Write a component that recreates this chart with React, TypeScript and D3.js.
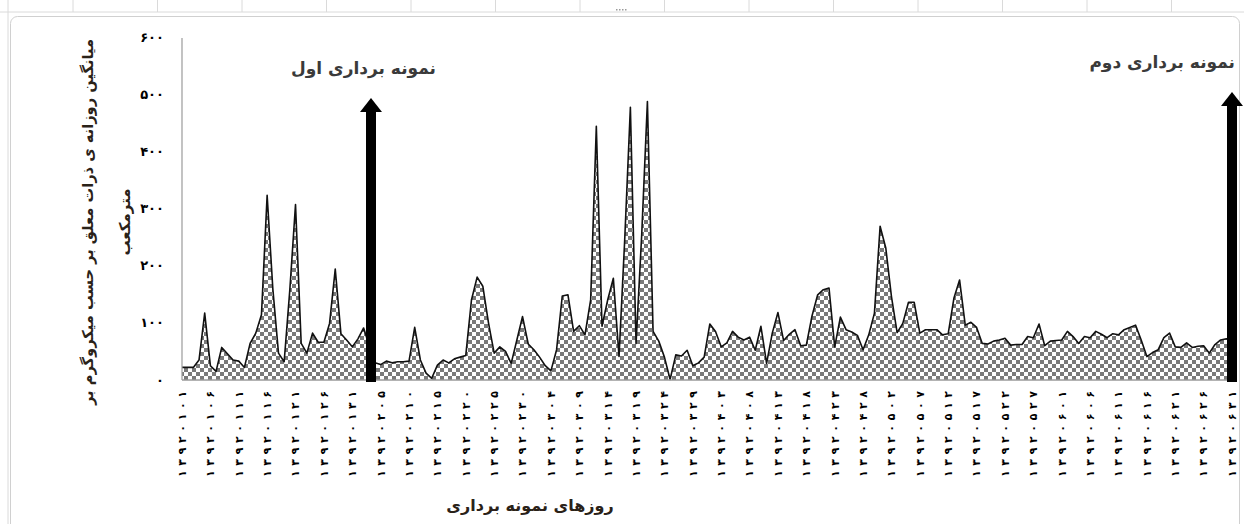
import * as d3 from 'd3';

// daily mean values, 1392/01/01 .. 1392/06/31 (186 days)
const dailyValues = [
  22, 22, 22, 35, 117, 25, 15, 57, 46, 35,
  33, 22, 64, 82, 114, 323, 160, 47, 32, 158,
  307, 64, 47, 82, 66, 66, 99, 194, 81, 70,
  58, 72, 91, 60, 30, 27, 33, 30, 32, 32,
  33, 92, 35, 12, 3, 26, 35, 30, 37, 40,
  43, 140, 180, 164, 100, 47, 58, 50, 29, 70,
  111, 63, 53, 40, 25, 16, 53, 147, 149, 85,
  95, 79, 140, 444, 94, 140, 178, 41, 245, 477,
  64, 255, 487, 85, 68, 40, 1, 44, 42, 52,
  25, 30, 40, 98, 85, 58, 65, 85, 75, 70,
  75, 52, 94, 29, 82, 118, 69, 80, 88, 60,
  61, 112, 149, 158, 161, 58, 110, 88, 84, 78,
  53, 79, 117, 269, 231, 146, 83, 99, 136, 136,
  82, 88, 88, 88, 79, 81, 143, 175, 96, 101,
  92, 64, 63, 68, 70, 73, 61, 62, 62, 76,
  74, 98, 60, 68, 69, 70, 85, 76, 64, 76,
  74, 85, 80, 74, 81, 79, 88, 92, 96, 70,
  41, 48, 53, 74, 82, 58, 57, 65, 57, 59,
  60, 47, 62, 70, 72, 72,
];

// every fifth day is labelled
const dateLabels = [
  '13920101', '13920106', '13920111', '13920116', '13920121', '13920126', '13920131',
  '13920205', '13920210', '13920215', '13920220', '13920225', '13920230',
  '13920304', '13920309', '13920314', '13920319', '13920324', '13920329',
  '13920403', '13920408', '13920413', '13920418', '13920423', '13920428',
  '13920502', '13920507', '13920512', '13920517', '13920522', '13920527',
  '13920601', '13920606', '13920611', '13920616', '13920621', '13920626', '13920631',
];
const labelStep = 5;

const yTicks = [0, 100, 200, 300, 400, 500, 600];

// sampling markers (day index) and their captions
const samplingDays = [33.3, 185];
const samplingCaptions = ['نمونه برداری اول', 'نمونه برداری دوم'];

const yTitleLines = ['میانگین روزانه ی ذرات معلق بر حسب میکروگرم بر', 'مترمکعب'];
const xTitle = 'روزهای نمونه برداری';

const faDigits = '۰۱۲۳۴۵۶۷۸۹';
const toFa = (s: string | number) => String(s).replace(/\d/g, (d) => faDigits[+d]);

const W = 1244;
const H = 524;
const FONT = "'DejaVu Sans', sans-serif";

export default function App() {
  const x = d3.scaleLinear().domain([0, dailyValues.length - 1]).range([182, 1232]);
  const y = d3.scaleLinear().domain([0, 600]).range([380, 37]);

  const area = d3
    .area<number>()
    .x((_, i) => x(i))
    .y0(y(0))
    .y1((d) => y(d));
  const line = d3
    .line<number>()
    .x((_, i) => x(i))
    .y((d) => y(d));

  // spreadsheet grid behind the chart object
  const sheetCols = d3.range(0, 16).map((k) => 73 + k * 84.5);

  return (
    <svg
      width={W}
      height={H}
      style={{ position: 'absolute', left: 0, top: 0, background: '#fff' }}
    >
      <defs>
        <pattern id="checker" width={8} height={8} patternUnits="userSpaceOnUse">
          <rect width={8} height={8} fill="#fff" />
          <rect width={4} height={4} fill="#7a7a7a" />
          <rect x={4} y={4} width={4} height={4} fill="#7a7a7a" />
        </pattern>
      </defs>

      {/* sheet grid lines */}
      <line x1={0} x2={W} y1={12} y2={12} stroke="#dadada" />
      <line x1={8} x2={8} y1={0} y2={H} stroke="#dadada" />
      {sheetCols.map((cx) => (
        <line key={cx} x1={cx} x2={cx} y1={0} y2={12} stroke="#dadada" />
      ))}
      <g fill="#9a9a9a">
        {[616, 619, 622, 625].map((dx) => (
          <rect key={dx} x={dx} y={9} width={1.5} height={1.5} />
        ))}
      </g>

      {/* chart frame */}
      <rect x={10.5} y={16.5} width={1229} height={520} rx={7} fill="#fff" stroke="#d0d0d0" />

      {/* area + outline */}
      <path d={area(dailyValues) ?? ''} fill="url(#checker)" />
      <path d={line(dailyValues) ?? ''} fill="none" stroke="#111" strokeWidth={1.6} strokeLinejoin="round" />

      {/* axes */}
      <line x1={182} x2={182} y1={38} y2={380} stroke="#9a9a9a" strokeWidth={1.2} />
      <line x1={182} x2={1234} y1={380} y2={380} stroke="#9a9a9a" strokeWidth={1.5} />

      {/* y ticks */}
      <g fontFamily={FONT} fontWeight="bold" fontSize={13} fill="#000" textAnchor="end">
        {yTicks.map((t) => (
          <text key={t} x={164} y={y(t)} dy="0.35em">
            {toFa(t)}
          </text>
        ))}
      </g>

      {/* x tick labels */}
      <g fontFamily={FONT} fontWeight="bold" fontSize={11} fill="#000">
        {dateLabels.map((lab, k) => {
          const px = x(k * labelStep);
          return (
            <text
              key={lab}
              transform={`translate(${px},391) rotate(-90)`}
              textAnchor="end"
              dy="0.35em"
              textLength={86}
              lengthAdjust="spacing"
            >
              {toFa(lab)}
            </text>
          );
        })}
      </g>

      {/* sampling arrows */}
      {samplingDays.map((d, k) => {
        const ax = x(d);
        const top = k === 0 ? 98 : 92;
        return (
          <g key={d} fill="#000">
            <rect x={ax - 5} y={top + 13} width={10} height={382 - top - 13} />
            <path d={`M${ax},${top}L${ax + 11},${top + 14}L${ax - 11},${top + 14}Z`} />
          </g>
        );
      })}
      <g fontFamily={FONT} fontWeight="bold" fontSize={17} fill="#3a3a3a" textAnchor="end">
        <text x={436} y={74}>
          {samplingCaptions[0]}
        </text>
        <text x={1235} y={68}>
          {samplingCaptions[1]}
        </text>
      </g>

      {/* axis titles */}
      <g fontFamily={FONT} fontWeight="bold" fill="#2a2218">
        <text
          transform="translate(88,222) rotate(-90)"
          textAnchor="middle"
          dy="0.35em"
          fontSize={15}
          textLength={366}
          lengthAdjust="spacingAndGlyphs"
        >
          {yTitleLines[0]}
        </text>
        <text transform="translate(125,222) rotate(-90)" textAnchor="middle" dy="0.35em" fontSize={15}>
          {yTitleLines[1]}
        </text>
        <text x={530} y={505} textAnchor="middle" dy="0.35em" fontSize={16}>
          {xTitle}
        </text>
      </g>
    </svg>
  );
}
